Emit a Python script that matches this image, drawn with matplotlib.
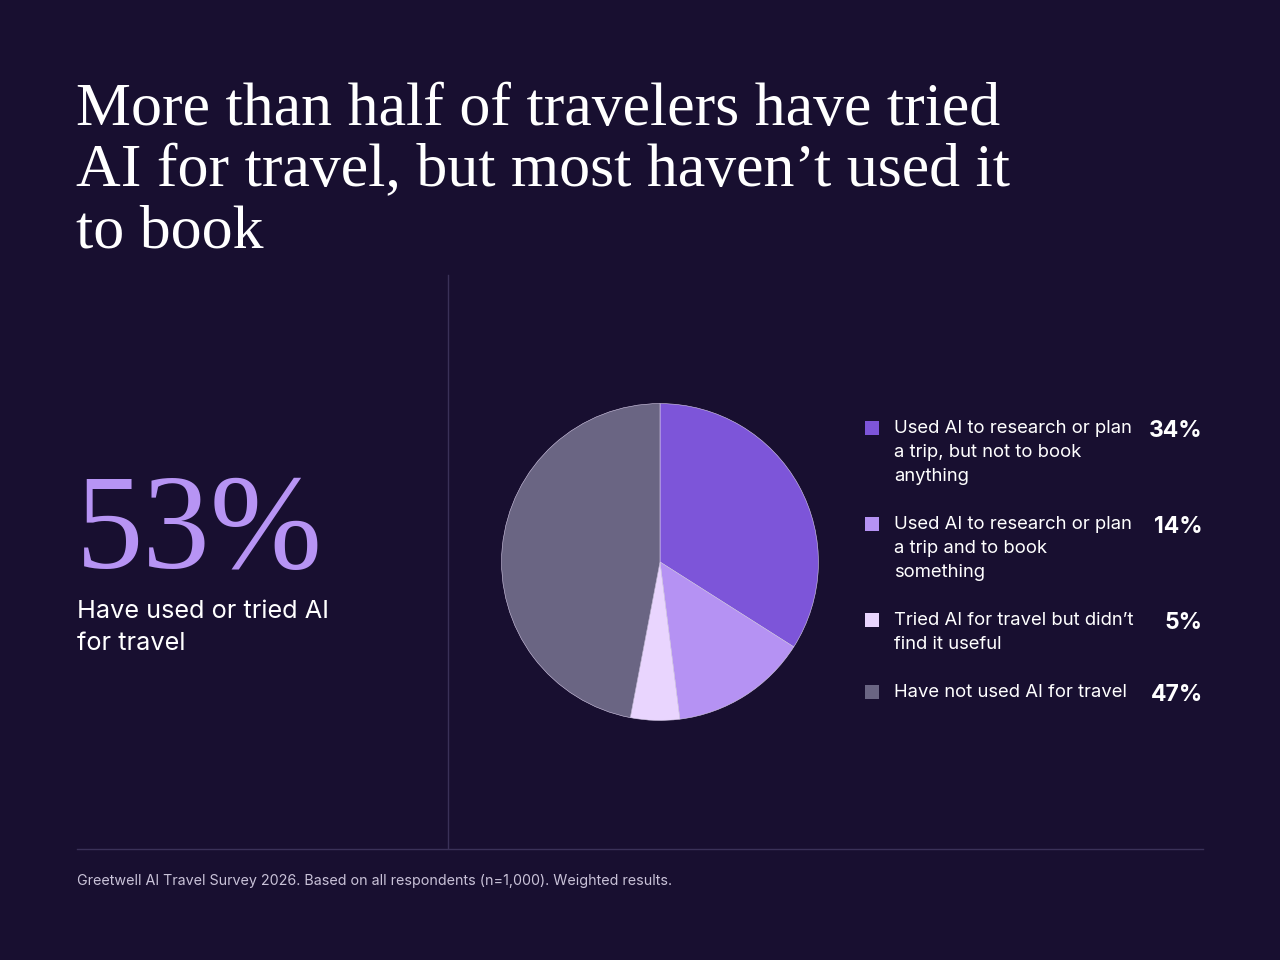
import matplotlib
matplotlib.use("Agg")
import matplotlib.pyplot as plt
from matplotlib.patches import Rectangle
from matplotlib.lines import Line2D

# data
labels = [
    ["Used AI to research or plan", "a trip, but not to book", "anything"],
    ["Used AI to research or plan", "a trip and to book", "something"],
    ["Tried AI for travel but didn\u2019t", "find it useful"],
    ["Have not used AI for travel"],
]
values = [34, 14, 5, 47]
colors = ["#7d55d9", "#b592f3", "#e9d5fe", "#6a6583"]
title_lines = ["More than half of travelers have tried",
               "AI for travel, but most haven\u2019t used it",
               "to book"]
headline = "53%"
headline_sub = ["Have used or tried AI", "for travel"]
footer = "Greetwell AI Travel Survey 2026. Based on all respondents (n=1,000). Weighted results."

BG = "#180f30"
W, H = 1280, 960
SERIF = "Liberation Serif"
SANS = "Inter"


def fx(px):
    return px / W


def fy(py):
    return 1 - py / H


fig = plt.figure(figsize=(12.8, 9.6), dpi=100, facecolor=BG)

# title
for i, line in enumerate(title_lines):
    fig.text(fx(76), fy(125 + 61 * i), line, fontsize=44.6, color="white",
             family=SERIF, va="baseline", ha="left")

# big number
fig.text(fx(76), fy(568), headline, fontsize=97, color="#b794f4",
         family=SERIF, va="baseline", ha="left")
for i, line in enumerate(headline_sub):
    fig.text(fx(77), fy(618 + 32 * i), line, fontsize=18.2, color="white",
             family=SANS, va="baseline", ha="left")

# divider lines
fig.add_artist(Line2D([fx(448), fx(448)], [fy(275), fy(848)], color="#3a3158", lw=1))
fig.add_artist(Line2D([fx(77), fx(1203)], [fy(849), fy(849)], color="#3a3158", lw=1))

# pie
ax = fig.add_axes([fx(500), fy(722), 320 / W, 320 / H])
ax.set_facecolor(BG)
ax.pie(values, colors=colors, startangle=90, counterclock=False,
       wedgeprops=dict(edgecolor="#d8cdea", linewidth=0.4))
ax.set_xlim(-1.01, 1.01)
ax.set_ylim(-1.01, 1.01)
ax.set_aspect("equal")
ax.axis("off")

# legend
row_base = [433, 529, 625, 697]
for lab, val, col, base in zip(labels, values, colors, row_base):
    fig.add_artist(Rectangle((fx(865), fy(base + 2)), 14 / W, 14 / H,
                             facecolor=col, edgecolor="none"))
    for j, line in enumerate(lab):
        fig.text(fx(894), fy(base + 24 * j), line, fontsize=13.3, color="white",
                 family=SANS, va="baseline", ha="left")
    fig.text(fx(1203), fy(base + 4), f"{val}%", fontsize=16.5, color="white",
             family=SANS, weight="bold", va="baseline", ha="right")

fig.text(fx(77), fy(885), footer, fontsize=10.3, color="#c9c2d8",
         family=SANS, va="baseline", ha="left")

fig.savefig("out.png", dpi=100, facecolor=BG)
